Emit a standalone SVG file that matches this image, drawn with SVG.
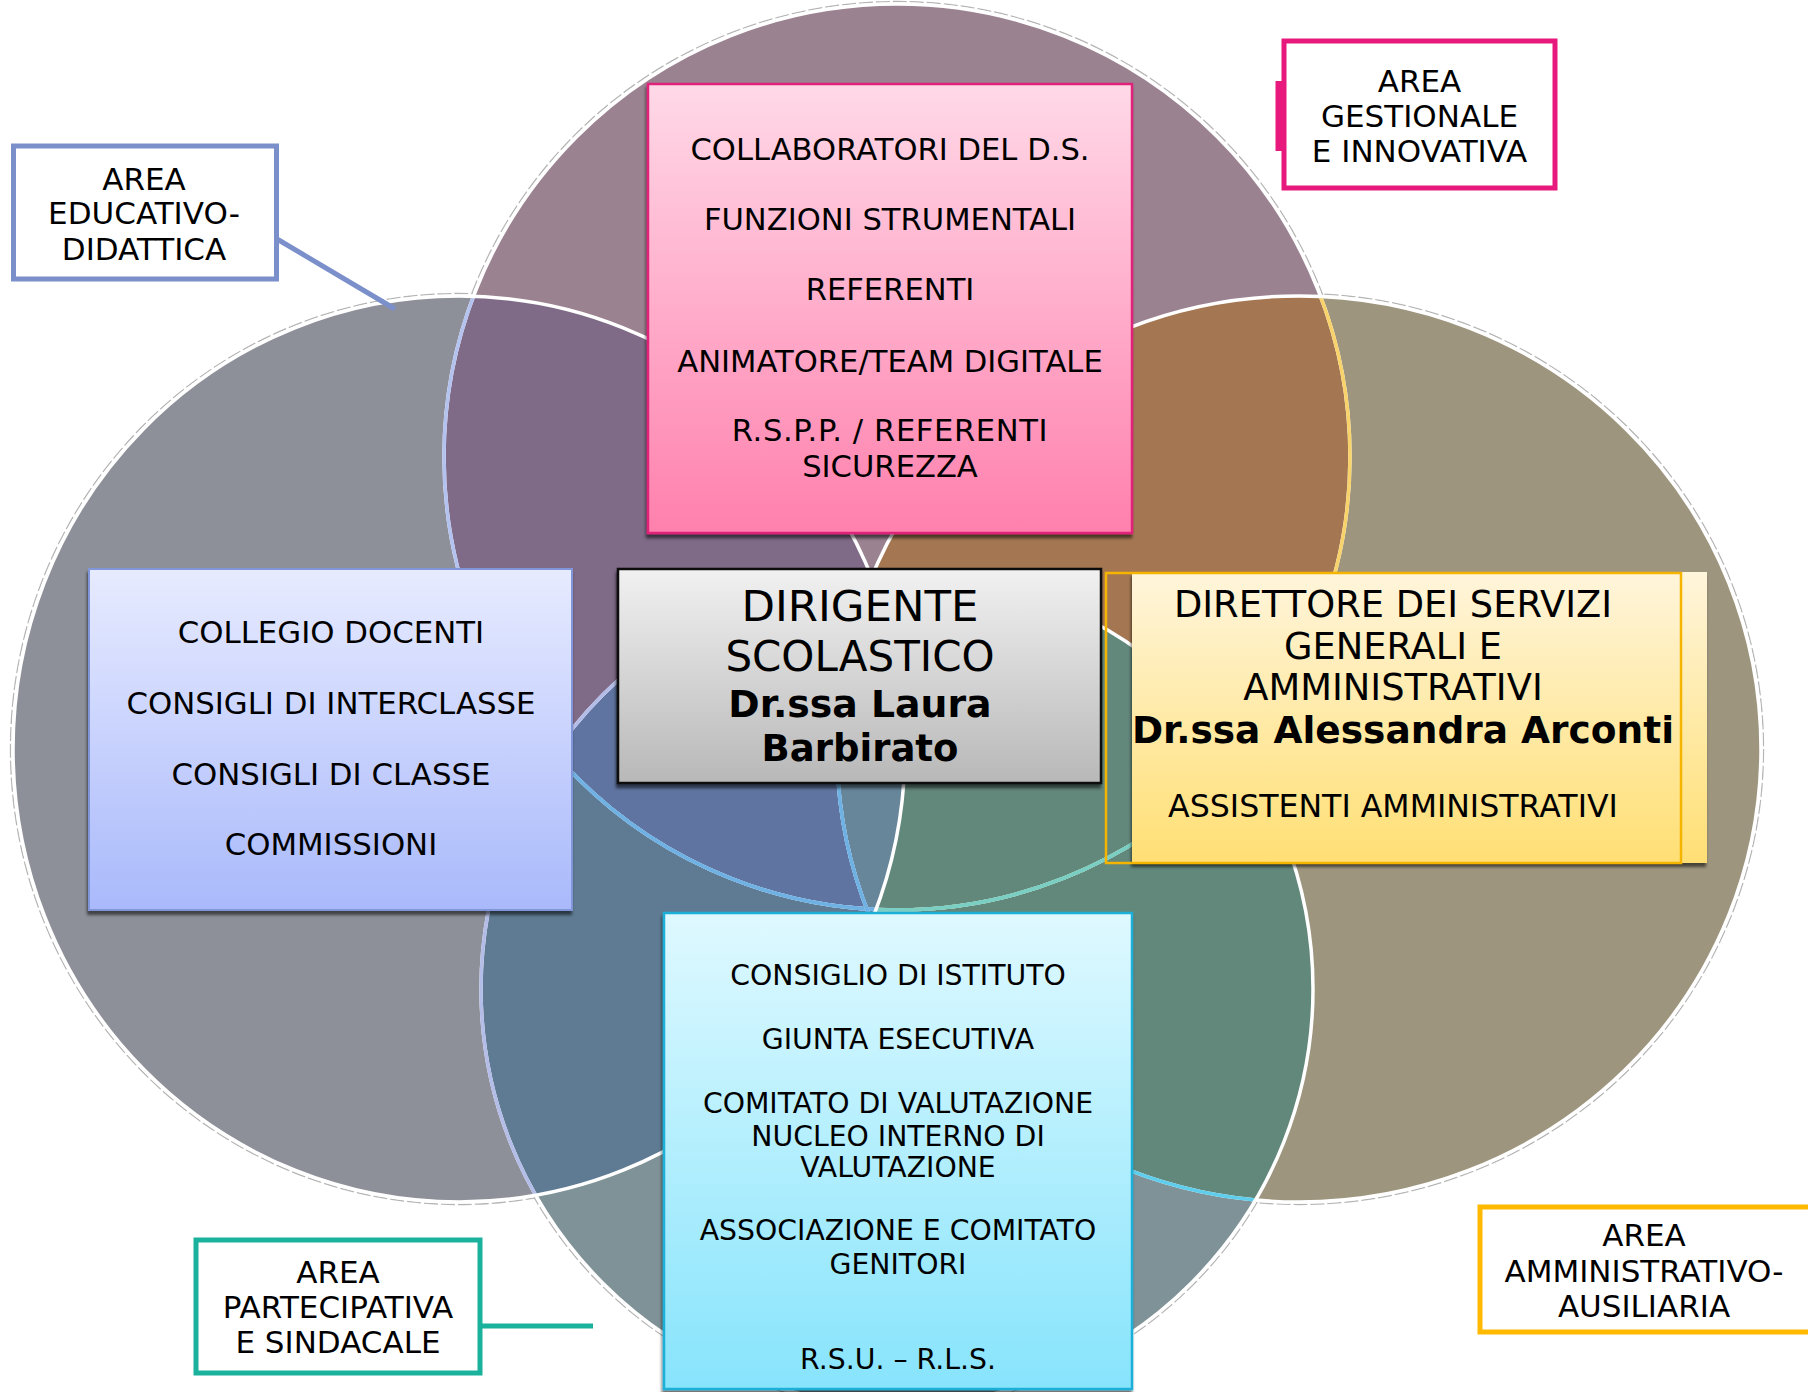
<svg xmlns="http://www.w3.org/2000/svg" width="1808" height="1392" viewBox="0 0 1808 1392">
<defs>
  <circle id="gT" cx="897" cy="457" r="453"/>
  <ellipse id="gR" cx="1299" cy="749" rx="462" ry="453"/>
  <circle id="gB" cx="897" cy="989" r="416"/>
  <ellipse id="gL" cx="459" cy="749" rx="446" ry="453"/>
  <clipPath id="cT"><use href="#gT"/></clipPath>
  <clipPath id="cR"><use href="#gR"/></clipPath>
  <clipPath id="cB"><use href="#gB"/></clipPath>
  <clipPath id="cL"><use href="#gL"/></clipPath>
  <linearGradient id="gPink" x1="0" y1="0" x2="0" y2="1"><stop offset="0" stop-color="#ffd9e7"/><stop offset="1" stop-color="#ff80ad"/></linearGradient>
  <linearGradient id="gLav" x1="0" y1="0" x2="0" y2="1"><stop offset="0" stop-color="#e7ebff"/><stop offset="1" stop-color="#a9b9fb"/></linearGradient>
  <linearGradient id="gGrey" x1="0" y1="0" x2="0" y2="1"><stop offset="0" stop-color="#f1f1f1"/><stop offset="1" stop-color="#b8b8b8"/></linearGradient>
  <linearGradient id="gYel" x1="0" y1="0" x2="0" y2="1"><stop offset="0" stop-color="#fff5db"/><stop offset="1" stop-color="#ffdf74"/></linearGradient>
  <linearGradient id="gCyan" x1="0" y1="0" x2="0" y2="1"><stop offset="0" stop-color="#dff9ff"/><stop offset="1" stop-color="#87e4fc"/></linearGradient>
  <filter id="sh" x="-5%" y="-5%" width="110%" height="115%">
    <feDropShadow dx="-1" dy="4" stdDeviation="1.5" flood-color="#000" flood-opacity="0.55"/>
  </filter>
  <style>
    text { font-family: "DejaVu Sans", Verdana, sans-serif; fill: #000; text-anchor: middle; }
    .area { font-size: 31px; }
    .areabox { fill: #fff; stroke-width: 5; }
    .pk { font-size: 30.6px; }
    .lv { font-size: 30.8px; }
    .cy { font-size: 28.3px; }
    .bold { font-weight: bold; }
    .wst { fill: none; stroke: #fff; stroke-width: 3.5; }
    .ring { fill: none; stroke: #b5b5b5; stroke-width: 1.3; stroke-dasharray: 14 3; }
  </style>
</defs>
<rect width="1808" height="1392" fill="#fff"/>

<g id="venn">
  <g class="ring">
    <circle cx="897" cy="457" r="455.5"/>
    <ellipse cx="1299" cy="749" rx="464.5" ry="455.5"/>
    <circle cx="897" cy="989" r="418.5"/>
    <ellipse cx="459" cy="749" rx="448.5" ry="455.5"/>
  </g>
  <!-- base fills -->
  <use href="#gT" fill="#9b8290"/>
  <use href="#gR" fill="#9e957e"/>
  <use href="#gB" fill="#7f9297"/>
  <use href="#gL" fill="#8e9099"/>
  <!-- overlaps -->
  <g clip-path="url(#cT)"><use href="#gR" fill="#a47752"/></g>
  <g clip-path="url(#cT)"><use href="#gB" fill="#66858f"/></g>
  <g clip-path="url(#cR)"><use href="#gB" fill="#62877b"/></g>
  <g clip-path="url(#cT)"><use href="#gL" fill="#7f6a87"/></g>
  <g clip-path="url(#cB)"><use href="#gL" fill="#5e7b93"/></g>
  <g clip-path="url(#cT)"><g clip-path="url(#cB)"><use href="#gL" fill="#5f74a0"/></g></g>
  <g clip-path="url(#cR)"><use href="#gL" fill="#67869a"/></g>
  <!-- outlines -->
  <use href="#gT" class="wst"/>
  <g clip-path="url(#cR)"><use href="#gT" class="wst" style="stroke:#f8d36c"/></g>
  <g clip-path="url(#cB)"><use href="#gT" class="wst" style="stroke:#6fd0ee"/></g>
  <g clip-path="url(#cR)"><g clip-path="url(#cB)"><use href="#gT" class="wst" style="stroke:#7bcfc2"/></g></g>
  <g clip-path="url(#cL)"><use href="#gT" class="wst" style="stroke:#b3c2ef"/></g>
  <g clip-path="url(#cL)"><g clip-path="url(#cB)"><use href="#gT" class="wst" style="stroke:#6fb1e2"/></g></g>
  <use href="#gR" class="wst"/>
  <g clip-path="url(#cB)"><use href="#gR" class="wst" style="stroke:#5fcdec"/></g>
  <g clip-path="url(#cL)"><use href="#gR" class="wst" style="stroke:#b3c2ef"/></g>
  <g clip-path="url(#cL)"><g clip-path="url(#cB)"><use href="#gR" class="wst" style="stroke:#6fb1e2"/></g></g>
  <use href="#gB" class="wst"/>
  <g clip-path="url(#cL)"><use href="#gB" class="wst" style="stroke:#b4bde8"/></g>
  <use href="#gL" class="wst"/>
</g>

<g id="connectors" stroke-width="5" fill="none">
  <line x1="277" y1="239" x2="395" y2="309" stroke="#7b8fcb"/>
  <line x1="1279" y1="81" x2="1279" y2="151" stroke="#e8197d" stroke-width="7"/>
  <line x1="482" y1="1326" x2="593" y2="1326" stroke="#1bb29d"/>
</g>

<g id="area-educativo">
  <rect class="areabox" x="13.5" y="146" width="263" height="133" stroke="#7b8fcb"/>
  <text class="area" x="144" y="190">AREA</text>
  <text class="area" x="144" y="224">EDUCATIVO-</text>
  <text class="area" x="144" y="260">DIDATTICA</text>
</g>

<g id="area-gestionale">
  <rect class="areabox" x="1284" y="41" width="271" height="147" stroke="#e8197d"/>
  <text class="area" x="1419.5" y="91.5">AREA</text>
  <text class="area" x="1419.5" y="127.3">GESTIONALE</text>
  <text class="area" x="1419.5" y="162">E INNOVATIVA</text>
</g>

<g id="area-partecipativa">
  <rect class="areabox" x="196" y="1240" width="284" height="133" stroke="#1bb29d"/>
  <text class="area" x="338" y="1283">AREA</text>
  <text class="area" x="338" y="1318.4">PARTECIPATIVA</text>
  <text class="area" x="338" y="1353">E SINDACALE</text>
</g>

<g id="area-amministrativo">
  <rect class="areabox" x="1480" y="1207" width="340" height="125" stroke="#ffba00"/>
  <text class="area" x="1644" y="1246">AREA</text>
  <text class="area" x="1644" y="1282">AMMINISTRATIVO-</text>
  <text class="area" x="1644" y="1317">AUSILIARIA</text>
</g>

<g id="staff">
  <rect x="648" y="84" width="484" height="449" fill="url(#gPink)" stroke="#e0247a" stroke-width="2.5" filter="url(#sh)"/>
  <text class="pk" x="890" y="159.5">COLLABORATORI DEL D.S.</text>
  <text class="pk" x="890" y="230">FUNZIONI STRUMENTALI</text>
  <text class="pk" x="890" y="300">REFERENTI</text>
  <text class="pk" x="890" y="372">ANIMATORE/TEAM DIGITALE</text>
  <text class="pk" x="890" y="441" letter-spacing="0.6">R.S.P.P. / REFERENTI</text>
  <text class="pk" x="890" y="477">SICUREZZA</text>
</g>

<g id="collegi">
  <rect x="89" y="569" width="483" height="341" fill="url(#gLav)" stroke="#8096d8" stroke-width="2" filter="url(#sh)"/>
  <text class="lv" x="331" y="643">COLLEGIO DOCENTI</text>
  <text class="lv" x="331" y="714">CONSIGLI DI INTERCLASSE</text>
  <text class="lv" x="331" y="785">CONSIGLI DI CLASSE</text>
  <text class="lv" x="331" y="855">COMMISSIONI</text>
</g>

<g id="dirigente">
  <rect x="618" y="569" width="483" height="214" fill="url(#gGrey)" stroke="#111" stroke-width="2.5" filter="url(#sh)"/>
  <text x="860" y="621" font-size="43.5">DIRIGENTE</text>
  <text x="860" y="671" font-size="42">SCOLASTICO</text>
  <text class="bold" x="860" y="717" font-size="37.8">Dr.ssa Laura</text>
  <text class="bold" x="860" y="761" font-size="37">Barbirato</text>
</g>

<g id="dsga">
  <rect x="1132" y="572" width="575" height="291" fill="url(#gYel)" filter="url(#sh)"/>
  <rect x="1106" y="573" width="575" height="290" fill="none" stroke="#f5b400" stroke-width="2.5"/>
  <text x="1393" y="617" font-size="36.8">DIRETTORE DEI SERVIZI</text>
  <text x="1393" y="659" font-size="36.8">GENERALI E</text>
  <text x="1393" y="700" font-size="36.8">AMMINISTRATIVI</text>
  <text class="bold" x="1403" y="743" font-size="37.5">Dr.ssa Alessandra Arconti</text>
  <text x="1393" y="817" font-size="31.6">ASSISTENTI AMMINISTRATIVI</text>
</g>

<g id="organi">
  <rect x="664" y="913" width="468" height="476" fill="url(#gCyan)" stroke="#1ab0d8" stroke-width="2.5" filter="url(#sh)"/>
  <text class="cy" x="898" y="985">CONSIGLIO DI ISTITUTO</text>
  <text class="cy" x="898" y="1049">GIUNTA ESECUTIVA</text>
  <text class="cy" x="898" y="1113">COMITATO DI VALUTAZIONE</text>
  <text class="cy" x="898" y="1146">NUCLEO INTERNO DI</text>
  <text class="cy" x="898" y="1177">VALUTAZIONE</text>
  <text class="cy" x="898" y="1240">ASSOCIAZIONE E COMITATO</text>
  <text class="cy" x="898" y="1274">GENITORI</text>
  <text class="cy" x="898" y="1369">R.S.U. – R.L.S.</text>
</g>
</svg>
